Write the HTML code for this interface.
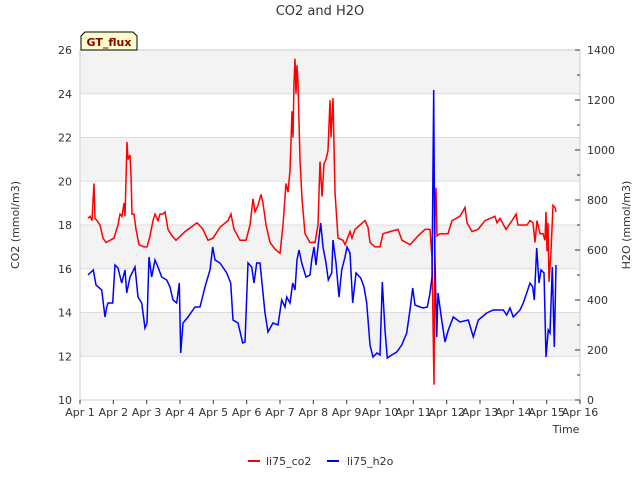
<!DOCTYPE html>
<html><head><meta charset="utf-8">
<style>
body{margin:0;background:#fff;font-family:"DejaVu Sans","Liberation Sans",sans-serif;}
svg text{font-family:"DejaVu Sans","Liberation Sans",sans-serif;}
</style></head>
<body>
<svg id="chart" width="640" height="480" xmlns="http://www.w3.org/2000/svg">
<text x="320" y="15" text-anchor="middle" font-size="13" fill="#333">CO2 and H2O</text>
<g id="bands"></g>
<g id="grid"></g>
<rect x="80" y="50" width="500" height="350" fill="none" stroke="#ccc"/>
<g id="lefttx"></g>
<g id="righttx"></g>
<g id="xtx"></g>
<path id="co2line" fill="none" stroke="#f00" stroke-width="1.5"/>
<path id="h2oline" fill="none" stroke="#00f" stroke-width="1.5"/>
<text transform="translate(19,225) rotate(-90)" text-anchor="middle" font-size="11" fill="#333">CO2 (mmol/m3)</text>
<text transform="translate(630,225) rotate(-90)" text-anchor="middle" font-size="11" fill="#333">H2O (mmol/m3)</text>
<text x="566" y="433" text-anchor="middle" font-size="11" fill="#333">Time</text>
<g>
<path d="M85,32 L133,32 L137,36 L137,50 L81,50 L81,36 Z" fill="#ffffcc" stroke="#000" stroke-width="1"/>
<text x="109" y="46" text-anchor="middle" font-size="11" font-weight="bold" fill="#8b0000">GT_flux</text>
</g>
<g>
<line x1="248" y1="461" x2="260" y2="461" stroke="#f00" stroke-width="2"/>
<text x="266" y="465" font-size="11" fill="#333">li75_co2</text>
<line x1="327" y1="461" x2="339" y2="461" stroke="#00f" stroke-width="2"/>
<text x="347" y="465" font-size="11" fill="#333">li75_h2o</text>
</g>
</svg>
<script>
const xTickLabels=["Apr 1","Apr 2","Apr 3","Apr 4","Apr 5","Apr 6","Apr 7","Apr 8","Apr 9","Apr 10","Apr 11","Apr 12","Apr 13","Apr 14","Apr 15","Apr 16"];
const leftTicks=[10,12,14,16,18,20,22,24,26];
const rightTicks=[0,200,400,600,800,1000,1200,1400];
const co2Days=[0.24,0.30,0.36,0.42,0.45,0.51,0.60,0.69,0.78,0.90,1.02,1.14,1.20,1.26,1.32,1.35,1.41,1.44,1.50,1.53,1.56,1.62,1.68,1.77,1.92,2.01,2.10,2.19,2.25,2.34,2.40,2.49,2.55,2.64,2.76,2.88,3.15,3.51,3.69,3.84,3.99,4.20,4.44,4.53,4.62,4.80,4.98,5.10,5.19,5.25,5.34,5.43,5.49,5.58,5.70,5.85,6.00,6.09,6.18,6.24,6.30,6.36,6.39,6.42,6.45,6.48,6.51,6.54,6.60,6.66,6.75,6.90,7.05,7.14,7.20,7.26,7.32,7.38,7.44,7.50,7.53,7.59,7.65,7.74,7.89,7.95,8.10,8.16,8.25,8.40,8.55,8.64,8.70,8.85,9.00,9.09,9.30,9.54,9.66,9.90,10.14,10.35,10.50,10.56,10.62,10.65,10.68,10.71,10.80,11.04,11.16,11.40,11.55,11.61,11.76,11.94,12.15,12.45,12.51,12.60,12.78,12.96,13.08,13.14,13.41,13.50,13.59,13.65,13.71,13.80,13.89,13.95,13.98,14.01,14.04,14.07,14.13,14.19,14.25,14.28];
const co2Values=[18.3,18.4,18.2,19.9,18.3,18.2,18.0,17.4,17.2,17.3,17.4,18.0,18.5,18.4,19.0,18.4,21.8,21.0,21.2,20.3,18.5,18.5,17.8,17.1,17.0,17.0,17.5,18.2,18.5,18.2,18.5,18.5,18.6,17.8,17.5,17.3,17.7,18.1,17.8,17.3,17.4,17.9,18.2,18.5,17.8,17.3,17.3,18.0,19.2,18.6,18.9,19.4,19.0,18.0,17.2,16.9,16.7,18.0,19.9,19.5,20.5,23.2,22.0,24.5,25.6,24.0,25.3,24.5,21.0,19.2,17.6,17.2,17.2,18.0,20.9,19.3,20.8,21.0,21.4,23.7,22.0,23.8,19.5,17.4,17.3,17.1,17.7,17.4,17.8,18.0,18.2,17.9,17.2,17.0,17.0,17.6,17.7,17.8,17.3,17.1,17.5,17.8,17.8,16.5,10.7,18.5,19.7,17.5,17.6,17.6,18.2,18.4,18.8,18.1,17.7,17.8,18.2,18.4,18.1,18.3,17.8,18.2,18.5,18.0,18.0,18.2,18.1,17.2,18.2,17.6,17.6,17.3,18.6,16.8,18.1,15.4,16.8,18.9,18.8,18.6];
const h2oDays=[0.24,0.40,0.48,0.65,0.75,0.80,0.84,0.98,1.05,1.14,1.25,1.35,1.40,1.50,1.65,1.74,1.85,1.95,2.01,2.07,2.15,2.25,2.34,2.45,2.60,2.70,2.79,2.90,2.98,3.02,3.09,3.24,3.45,3.60,3.75,3.90,3.98,4.05,4.20,4.40,4.52,4.59,4.74,4.88,4.95,5.04,5.15,5.22,5.30,5.40,5.55,5.64,5.79,5.94,6.05,6.15,6.20,6.30,6.38,6.45,6.51,6.57,6.65,6.78,6.90,6.95,7.02,7.08,7.17,7.22,7.29,7.38,7.45,7.55,7.59,7.68,7.77,7.85,7.95,8.01,8.10,8.18,8.28,8.42,8.52,8.60,8.70,8.79,8.91,9.00,9.07,9.15,9.22,9.35,9.50,9.65,9.80,9.90,9.98,10.05,10.20,10.30,10.42,10.50,10.56,10.61,10.64,10.70,10.74,10.85,10.95,11.05,11.20,11.40,11.65,11.80,11.95,12.20,12.40,12.70,12.80,12.90,13.00,13.20,13.30,13.40,13.50,13.58,13.63,13.70,13.77,13.83,13.92,13.98,14.05,14.10,14.17,14.23,14.28];
const h2oValues=[500,520,460,440,332,372,388,388,540,528,468,520,428,492,532,412,388,288,308,572,492,560,532,492,480,452,400,388,468,188,308,332,372,372,452,520,612,560,548,508,468,320,308,228,232,548,532,468,548,548,348,272,308,300,400,372,412,388,468,440,560,600,548,492,500,560,612,540,648,708,612,548,480,508,640,548,412,520,572,612,588,388,508,488,452,388,220,172,188,180,472,280,168,180,192,220,268,360,448,380,372,368,372,428,492,1240,612,252,428,320,232,280,332,312,320,252,320,348,360,360,340,368,332,360,388,428,468,452,400,608,468,520,508,172,280,268,532,212,540];
const NS="http://www.w3.org/2000/svg";
const X0=80,X1=580,Y0=400,Y1=50;
const xs=d=>X0+d*(X1-X0)/15;
const yl=v=>Y0-(v-10)*(Y0-Y1)/16;
const yr=v=>Y0-v*(Y0-Y1)/1400;
function mk(tag,attrs,parent){const e=document.createElementNS(NS,tag);for(const k in attrs)e.setAttribute(k,attrs[k]);parent.appendChild(e);return e;}
const bands=document.getElementById('bands'),grid=document.getElementById('grid');
for(let i=0;i<leftTicks.length-1;i++){
  const r=mk('rect',{x:X0,y:yl(leftTicks[i+1]),width:X1-X0,height:yl(leftTicks[i])-yl(leftTicks[i+1]),fill:(i%2===1)?'#f3f3f3':'#ffffff'},bands);
  
  
}
const lt=document.getElementById('lefttx');
leftTicks.forEach(v=>{
  const g=mk('line',{x1:X0,x2:X1,y1:yl(v),y2:yl(v),stroke:'#ddd'},grid);
  
  
  const t=mk('text',{x:72,y:yl(v)+4,'text-anchor':'end','font-size':'11',fill:'#333'},lt);
  t.textContent=v;
  
  
});
const rt=document.getElementById('righttx');
for(let v=0;v<=1400;v+=100){
  const major=v%200===0;
  const l=mk('line',{x1:X1,x2:X1-(major?5:3),y1:yr(v),y2:yr(v),stroke:'#333'},rt);
  
  
}
rightTicks.forEach(v=>{
  const t=mk('text',{x:587,y:yr(v)+4,'font-size':'11',fill:'#333'},rt);
  t.textContent=v;
  
  
});
const xt=document.getElementById('xtx');
xTickLabels.forEach((s,i)=>{
  const l=mk('line',{x1:xs(i),x2:xs(i),y1:Y0,y2:Y0+4,stroke:'#333'},xt);
  
  
  const t=mk('text',{x:xs(i),y:416,'text-anchor':'middle','font-size':'11',fill:'#333'},xt);
  t.textContent=s;
  
  
});
document.getElementById('co2line').setAttribute('d',co2Days.map((d,i)=>(i?'L':'M')+xs(d).toFixed(1)+','+yl(co2Values[i]).toFixed(1)).join(''));
document.getElementById('h2oline').setAttribute('d',h2oDays.map((d,i)=>(i?'L':'M')+xs(d).toFixed(1)+','+yr(h2oValues[i]).toFixed(1)).join(''));
</script>
</body></html>
